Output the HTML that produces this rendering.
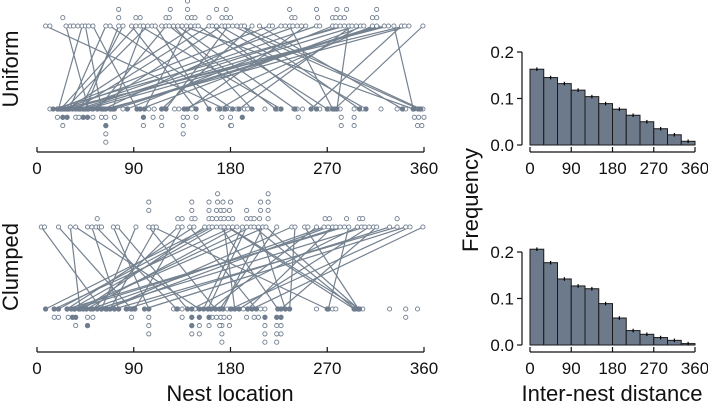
<!DOCTYPE html>
<html><head><meta charset="utf-8">
<style>
html,body{margin:0;padding:0;background:#fff;}
svg{display:block;font-family:"Liberation Sans",sans-serif;}
</style></head>
<body>
<svg id="chart" width="708" height="403" viewBox="0 0 708 403" xmlns="http://www.w3.org/2000/svg">
  <g id="g-lines"></g>
  <g id="g-dots"></g>
  <g id="g-hist"></g>
  <g id="g-axes"></g>
  <text transform="translate(18,69) rotate(-90)" text-anchor="middle" font-size="22" fill="#111">Uniform</text>
  <text transform="translate(18,267) rotate(-90)" text-anchor="middle" font-size="22" fill="#111">Clumped</text>
  <text transform="translate(478,200) rotate(-90)" text-anchor="middle" font-size="22" fill="#111">Frequency</text>
  <text x="230" y="401" text-anchor="middle" font-size="22" fill="#111">Nest location</text>
  <text x="612" y="401" text-anchor="middle" font-size="22" fill="#111">Inter-nest distance</text>
</svg>
<script>
// ---- data ----
const xTicks = [0, 90, 180, 270, 360];
const yTicksHist = [0.0, 0.1, 0.2];
const yTickLabels = ["0.0", "0.1", "0.2"];
const histUniform = [0.163,0.145,0.132,0.118,0.104,0.089,0.077,0.064,0.050,0.035,0.022,0.008];
const histClumped = [0.206,0.177,0.142,0.127,0.121,0.089,0.058,0.031,0.023,0.016,0.010,0.003];
// top row dots: [degree, stack level]
const uniformTop = [[8,1],[12,1],[27,1],[31,1],[34,1],[38,1],[42,1],[45,1],[48,1],[52,1],[64,1],[68,1],[76,1],[80,1],[88,1],[92,1],[96,1],[99,1],[103,1],[107,1],[110,1],[116,1],[120,1],[123,1],[127,1],[131,1],[135,1],[139,1],[143,1],[147,1],[150,1],[160,1],[163,1],[167,1],[172,1],[175,1],[178,1],[182,1],[186,1],[190,1],[193,1],[200,1],[207,1],[216,1],[219,1],[227,1],[231,1],[235,1],[238,1],[242,1],[246,1],[250,1],[260,1],[263,1],[275,1],[278,1],[282,1],[286,1],[290,1],[293,1],[297,1],[301,1],[304,1],[312,1],[316,1],[323,1],[327,1],[332,1],[339,1],[342,1],[346,1],[359,1],
[24,2],[76,2],[92,2],[96,2],[120,2],[123,2],[140,2],[144,2],[147,2],[160,2],[172,2],[176,2],[180,2],[237,2],[240,2],[261,2],[275,2],[278,2],[282,2],[286,2],[312,2],[316,2],
[76,3],[124,3],[140,3],[167,3],[176,3],[235,3],[260,3],[279,3],[288,3],[316,3],[140,4]];
const uniformBottom = [[12,1],[19,1],[23,1],[26,1],[29,1],[33,1],[36,1],[38,1],[42,1],[45,1],[47,1],[51,1],[57,1],[60,1],[64,1],[68,1],[72,1],[80,1],[84,1],[93,1],[96,1],[100,1],[104,1],[109,1],[116,1],[120,1],[128,1],[132,1],[137,1],[140,1],[144,1],[148,1],[160,1],[168,1],[173,1],[176,1],[180,1],[186,1],[193,1],[196,1],[212,1],[224,1],[227,1],[239,1],[242,1],[247,1],[255,1],[260,1],[263,1],[272,1],[277,1],[279,1],[282,1],[295,1],[303,1],[306,1],[320,1],[335,1],[340,1],[343,1],[351,1],[354,1],[357,1],[359,1],
[19,2],[24,2],[28,2],[36,2],[39,2],[43,2],[47,2],[52,2],[60,2],[64,2],[72,2],[99,2],[108,2],[116,2],[136,2],[140,2],[148,2],[172,2],[180,2],[191,2],[243,2],[283,2],[295,2],[351,2],[355,2],[360,2],
[24,3],[64,3],[99,3],[116,3],[136,3],[180,3],[181,3],[283,3],[295,3],[354,3],[358,3],[64,4],[136,4],[64,5]];
const uniformFilledBelow = [[24,2],[28,2],[43,2],[47,2],[99,2],[191,2],[64,3]];
const clumpedTop = [[4,1],[7,1],[20,1],[31,1],[36,1],[47,1],[51,1],[55,1],[58,1],[60,1],[71,1],[75,1],[92,1],[104,1],[108,1],[111,1],[131,1],[135,1],[142,1],[146,1],[156,1],[160,1],[163,1],[167,1],[171,1],[174,1],[178,1],[182,1],[186,1],[191,1],[195,1],[199,1],[202,1],[206,1],[210,1],[213,1],[223,1],[237,1],[240,1],[249,1],[252,1],[260,1],[267,1],[271,1],[275,1],[278,1],[282,1],[286,1],[290,1],[298,1],[302,1],[305,1],[309,1],[313,1],[316,1],[328,1],[335,1],[343,1],[347,1],[359,1],
[56,2],[131,2],[135,2],[144,2],[147,2],[160,2],[163,2],[167,2],[171,2],[174,2],[178,2],[182,2],[195,2],[199,2],[202,2],[207,2],[215,2],[268,2],[272,2],[288,2],[300,2],[303,2],[335,2],
[104,3],[144,3],[160,3],[167,3],[171,3],[174,3],[179,3],[195,3],[208,3],[215,3],
[104,4],[144,4],[160,4],[168,4],[173,4],[180,4],[208,4],[215,4],[168,5],[215,5]];
const clumpedBottom = [[8,1],[16,1],[20,1],[28,1],[32,1],[35,1],[39,1],[43,1],[46,1],[50,1],[52,1],[60,1],[64,1],[68,1],[72,1],[76,1],[84,1],[87,1],[91,1],[104,1],[127,1],[131,1],[135,1],[144,1],[147,1],[151,1],[155,1],[159,1],[162,1],[166,1],[170,1],[173,1],[177,1],[181,1],[184,1],[188,1],[192,1],[196,1],[200,1],[204,1],[208,1],[212,1],[224,1],[227,1],[231,1],[235,1],[260,1],[271,1],[275,1],[278,1],[295,1],[299,1],[303,1],[328,1],[343,1],[354,1],
[16,2],[20,2],[29,2],[33,2],[36,2],[47,2],[52,2],[88,2],[104,2],[135,2],[144,2],[151,2],[160,2],[163,2],[167,2],[171,2],[174,2],[179,2],[195,2],[202,2],[206,2],[212,2],[223,2],[227,2],[343,2],
[36,3],[47,3],[104,3],[144,3],[151,3],[160,3],[172,3],[170,3],[179,3],[212,3],[223,3],[227,3],
[104,4],[144,4],[151,4],[172,4],[212,4],[223,4],[227,4],[172,5],[212,5],[223,5]];
const clumpedFilledBelow = [[33,2],[36,2],[47,3],[144,2],[151,2],[160,2],[144,3],[212,2],[223,2],[227,2]];
// links: top degree -> bottom degree
const uniformLinkTop = [8,27,42,45,64,76,80,92,99,103,110,120,127,131,140,147,150,160,163,172,178,182,190,200,207,216,227,235,242,250,260,275,282,290,301,312,316,323,327,332,339,342,346,359,286,293,297,304,319,190,170,136,123,96,88,68,52];
const uniformLinkBot = [175,48,20,60,30,45,40,22,70,26,160,56,200,240,100,28,270,36,260,52,120,355,300,116,340,19,62,275,24,140,33,84,39,279,170,137,68,47,29,350,255,23,64,277,15,188,43,96,72,357,306,350,222,227,148,182,93];
const clumpedLinkTop = [4,20,31,51,55,71,92,104,108,131,142,146,156,160,163,167,171,174,178,182,186,191,199,206,210,213,223,237,249,260,267,271,275,282,286,290,298,305,309,316,328,335,343,359,347,240,202,195,111,75,36,135,177,213];
const clumpedLinkBot = [60,88,40,76,130,104,60,166,270,52,204,28,43,8,20,32,224,184,300,16,46,155,39,231,173,35,170,65,299,162,50,64,196,35,28,271,144,56,188,227,83,72,100,200,180,235,296,159,68,140,151,91,295,299];

// ---- scales ----
const X0 = 37, X1 = 424;
function xDot(d){ return X0 + d * (X1 - X0) / 360; }
const HX0 = 530, HX1 = 695;
function xHist(d){ return HX0 + d * (HX1 - HX0) / 360; }
function yHist(v, base){ return base - v * 465; }
const STEP = 8.3;
const panels = [
  {name:'uniform', top:uniformTop, bot:uniformBottom, filled:uniformFilledBelow, lt:uniformLinkTop, lb:uniformLinkBot, yTop:26, yBot:109, axisY:152},
  {name:'clumped', top:clumpedTop, bot:clumpedBottom, filled:clumpedFilledBelow, lt:clumpedLinkTop, lb:clumpedLinkBot, yTop:227, yBot:309, axisY:352}
];
const NS = 'http://www.w3.org/2000/svg';
function mk(tag, attrs, parent){
  const e = document.createElementNS(NS, tag);
  for (const k in attrs) e.setAttribute(k, attrs[k]);
  parent.appendChild(e);
  return e;
}
const gL = document.getElementById('g-lines');
const gD = document.getElementById('g-dots');
const gH = document.getElementById('g-hist');
const gA = document.getElementById('g-axes');
const COL = '#6f7d8f';

panels.forEach(p => {
  for (let i = 0; i < p.lt.length; i++) {
    const l = mk('line', {x1:xDot(p.lt[i]), y1:p.yTop, x2:xDot(p.lb[i]), y2:p.yBot, stroke:'#74818f', 'stroke-width':1.2}, gL);
    
    
  }
  p.top.forEach(t => {
    const c = mk('circle', {cx:xDot(t[0]), cy:p.yTop - (t[1]-1)*STEP, r:2.1, fill:'#fff', stroke:COL, 'stroke-width':0.9}, gD);
    
    
  });
  p.bot.forEach(t => {
    const c = mk('circle', {cx:xDot(t[0]), cy:p.yBot + (t[1]-1)*STEP, r:2.1, fill:'#fff', stroke:COL, 'stroke-width':0.9}, gD);
    
    
  });
  p.lb.forEach(d => {
    const c = mk('circle', {cx:xDot(d), cy:p.yBot, r:2.3, fill:COL, stroke:COL, 'stroke-width':0.6}, gD);
    
    
  });
  p.filled.forEach(t => {
    const c = mk('circle', {cx:xDot(t[0]), cy:p.yBot + (t[1]-1)*STEP, r:2.3, fill:COL, stroke:COL, 'stroke-width':0.6}, gD);
    
    
  });
  const ax = mk('line', {x1:X0, y1:p.axisY, x2:X1, y2:p.axisY, stroke:'#111', 'stroke-width':1.2}, gA);
  
  
  xTicks.forEach(t => {
    const tk = mk('line', {x1:xDot(t), y1:p.axisY, x2:xDot(t), y2:p.axisY-5, stroke:'#111', 'stroke-width':1.2}, gA);
    
    
    const tx = mk('text', {x:xDot(t), y:p.axisY+22, 'text-anchor':'middle', 'font-size':17, fill:'#111'}, gA);
    tx.textContent = t;
    
    
  });
});

const hists = [{name:'uniform', vals:histUniform, base:145, axisY:152}, {name:'clumped', vals:histClumped, base:345, axisY:352}];
hists.forEach(h => {
  h.vals.forEach((v, i) => {
    const x0 = xHist(i*30), x1 = xHist((i+1)*30);
    const r = mk('rect', {x:x0, y:yHist(v, h.base), width:x1-x0, height:h.base - yHist(v, h.base), fill:'#6c7a8b', stroke:'#1a1a1a', 'stroke-width':1}, gH);
    
    
    const cx = (x0+x1)/2, y = yHist(v, h.base);
    const e = mk('line', {x1:cx, y1:y-1.8, x2:cx, y2:y+1.8, stroke:'#000', 'stroke-width':1.2}, gH);
    
    
  });
  const ya = mk('line', {x1:522, y1:yHist(0.2, h.base), x2:522, y2:h.base, stroke:'#111', 'stroke-width':1.2}, gA);
  
  
  yTicksHist.forEach((t, i) => {
    const tk = mk('line', {x1:517, y1:yHist(t, h.base), x2:522, y2:yHist(t, h.base), stroke:'#111', 'stroke-width':1.2}, gA);
    
    
    const tx = mk('text', {x:514, y:yHist(t, h.base)+6, 'text-anchor':'end', 'font-size':17, fill:'#111'}, gA);
    tx.textContent = yTickLabels[i];
    
    
  });
  const xa = mk('line', {x1:HX0, y1:h.axisY, x2:HX1, y2:h.axisY, stroke:'#111', 'stroke-width':1.2}, gA);
  
  
  xTicks.forEach(t => {
    const tk = mk('line', {x1:xHist(t), y1:h.axisY, x2:xHist(t), y2:h.axisY-5, stroke:'#111', 'stroke-width':1.2}, gA);
    
    
    const tx = mk('text', {x:xHist(t), y:h.axisY+22, 'text-anchor':'middle', 'font-size':17, fill:'#111'}, gA);
    tx.textContent = t;
    
    
  });
});
</script>
</body></html>
